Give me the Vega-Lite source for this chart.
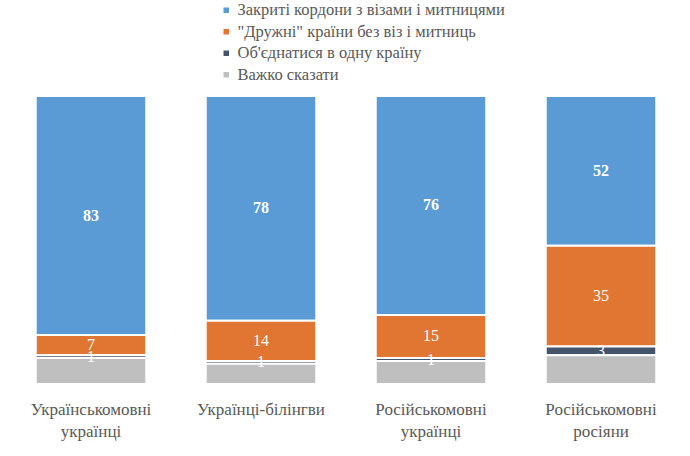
{
  "$schema": "https://vega.github.io/schema/vega-lite/v6.json",
  "width": 680,
  "height": 288,
  "autosize": "none",
  "padding": {"left": 6, "top": 96, "right": 4, "bottom": 72},
  "background": "white",
  "config": {
    "view": {"stroke": null},
    "font": "'Liberation Serif', 'Times New Roman', serif",
    "legend": {"labelFont": "'Liberation Serif', 'Times New Roman', serif"},
    "axis": {"labelFont": "'Liberation Serif', 'Times New Roman', serif"},
    "text": {"font": "'Liberation Serif', 'Times New Roman', serif"}
  },
  "data": {
    "values": [
      {"group": "Українськомовні українці", "answer": "Закриті кордони з візами і митницями", "rank": 4, "value": 83},
      {"group": "Українськомовні українці", "answer": "\"Дружні\" країни без віз і митниць", "rank": 3, "value": 7},
      {"group": "Українськомовні українці", "answer": "Об'єднатися в одну країну", "rank": 2, "value": 1},
      {"group": "Українськомовні українці", "answer": "Важко сказати", "rank": 1, "value": 9},
      {"group": "Українці-білінгви", "answer": "Закриті кордони з візами і митницями", "rank": 4, "value": 78},
      {"group": "Українці-білінгви", "answer": "\"Дружні\" країни без віз і митниць", "rank": 3, "value": 14},
      {"group": "Українці-білінгви", "answer": "Об'єднатися в одну країну", "rank": 2, "value": 1},
      {"group": "Українці-білінгви", "answer": "Важко сказати", "rank": 1, "value": 7},
      {"group": "Російськомовні українці", "answer": "Закриті кордони з візами і митницями", "rank": 4, "value": 76},
      {"group": "Російськомовні українці", "answer": "\"Дружні\" країни без віз і митниць", "rank": 3, "value": 15},
      {"group": "Російськомовні українці", "answer": "Об'єднатися в одну країну", "rank": 2, "value": 1},
      {"group": "Російськомовні українці", "answer": "Важко сказати", "rank": 1, "value": 8},
      {"group": "Російськомовні росіяни", "answer": "Закриті кордони з візами і митницями", "rank": 4, "value": 52},
      {"group": "Російськомовні росіяни", "answer": "\"Дружні\" країни без віз і митниць", "rank": 3, "value": 35},
      {"group": "Російськомовні росіяни", "answer": "Об'єднатися в одну країну", "rank": 2, "value": 3},
      {"group": "Російськомовні росіяни", "answer": "Важко сказати", "rank": 1, "value": 10}
    ]
  },
  "transform": [
    {"stack": "value", "groupby": ["group"], "sort": [{"field": "rank", "order": "ascending"}], "as": ["v0", "v1"]},
    {"calculate": "(datum.v0 + datum.v1) / 2", "as": "mid"}
  ],
  "encoding": {
    "x": {
      "field": "group",
      "type": "nominal",
      "sort": null,
      "title": null,
      "scale": {"paddingInner": 0.35, "paddingOuter": 0.175},
      "axis": {
        "labelAngle": 0,
        "domain": false,
        "ticks": false,
        "labelPadding": 17,
        "labelFontSize": 17,
        "labelColor": "#595959",
        "labelLineHeight": 22,
        "labelExpr": "split(datum.label, ' ')"
      }
    }
  },
  "layer": [
    {
      "mark": {"type": "bar", "stroke": "white", "strokeWidth": 2},
      "encoding": {
        "y": {
          "field": "v0",
          "type": "quantitative",
          "scale": {"domain": [0, 100], "nice": false},
          "axis": null
        },
        "y2": {"field": "v1"},
        "color": {
          "field": "answer",
          "type": "nominal",
          "scale": {
            "domain": ["Закриті кордони з візами і митницями", "\"Дружні\" країни без віз і митниць", "Об'єднатися в одну країну", "Важко сказати"],
            "range": ["#5b9bd5", "#e07632", "#44546a", "#bfbfbf"]
          },
          "legend": {
            "title": null,
            "orient": "none",
            "legendX": 212,
            "legendY": -94,
            "symbolType": "square",
            "symbolSize": 30,
            "symbolStrokeWidth": 0,
            "labelFontSize": 16.5,
            "labelColor": "#595959",
            "labelLimit": 400,
            "rowPadding": 4.5,
            "labelOffset": 3
          }
        }
      }
    },
    {
      "transform": [{"filter": "datum.rank == 4"}],
      "mark": {"type": "text", "color": "white", "fontSize": 16, "fontWeight": "bold"},
      "encoding": {
        "y": {"field": "mid", "type": "quantitative"},
        "text": {"field": "value", "type": "quantitative"}
      }
    },
    {
      "transform": [{"filter": "datum.rank == 3 || datum.rank == 2"}],
      "mark": {"type": "text", "color": "white", "fontSize": 16},
      "encoding": {
        "y": {"field": "mid", "type": "quantitative"},
        "text": {"field": "value", "type": "quantitative"}
      }
    }
  ]
}
